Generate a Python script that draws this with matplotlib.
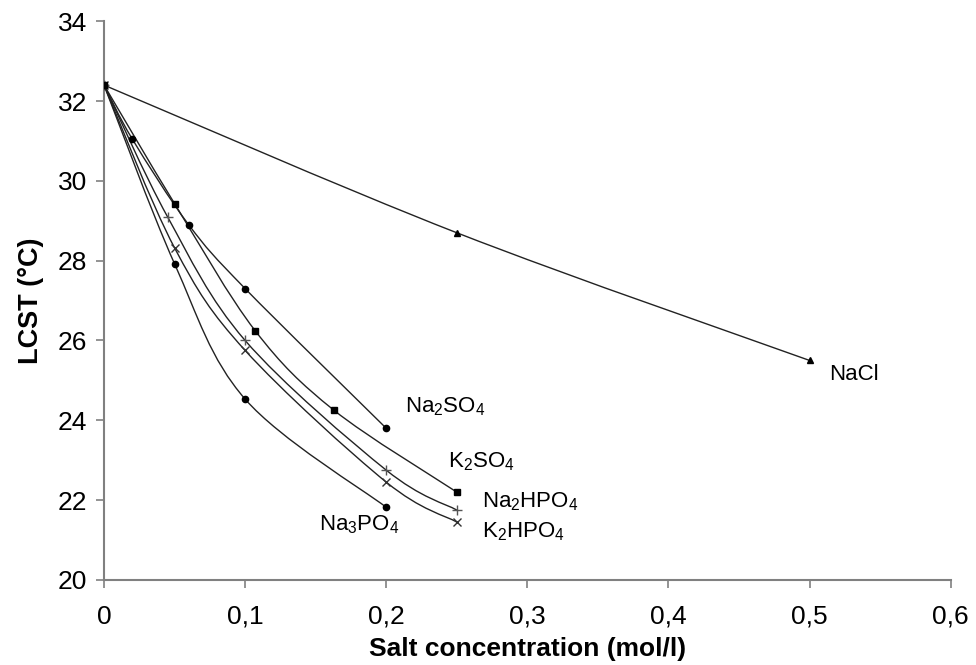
import numpy as np
import matplotlib
matplotlib.use("Agg")
import matplotlib.pyplot as plt
from matplotlib.path import Path
from matplotlib.patches import PathPatch

plt.rcParams['font.family'] = ['Liberation Sans', 'DejaVu Sans']
plt.rcParams['mathtext.fontset'] = 'custom'
plt.rcParams['mathtext.rm'] = 'Liberation Sans'
plt.rcParams['mathtext.it'] = 'Liberation Sans:italic'
plt.rcParams['mathtext.bf'] = 'Liberation Sans:bold'

# data (salt concentration in mol/l, LCST in degC)
na2so4_c = [0, 0.02, 0.06, 0.1, 0.2]
na2so4_t = [32.4, 31.05, 28.9, 27.3, 23.8]

k2so4_c = [0, 0.05, 0.107, 0.163, 0.25]
k2so4_t = [32.4, 29.43, 26.25, 24.25, 22.2]

na2hpo4_c = [0, 0.045, 0.1, 0.2, 0.25]
na2hpo4_t = [32.4, 29.1, 26.0, 22.75, 21.75]

k2hpo4_c = [0, 0.05, 0.1, 0.2, 0.25]
k2hpo4_t = [32.4, 28.32, 25.75, 22.45, 21.45]

na3po4_c = [0, 0.05, 0.1, 0.2]
na3po4_t = [32.4, 27.92, 24.53, 21.82]

nacl_c = [0, 0.25, 0.5]
nacl_t = [32.4, 28.7, 25.5]

xticks = [0, 0.1, 0.2, 0.3, 0.4, 0.5, 0.6]
xtick_labels = ['0', '0,1', '0,2', '0,3', '0,4', '0,5', '0,6']
yticks = [20, 22, 24, 26, 28, 30, 32, 34]


def smooth_path(xs, ys):
    # excel-style smoothed line: bezier segments with catmull-rom control points
    pts = np.column_stack([xs, ys]).astype(float)
    n = len(pts)
    verts = [pts[0]]
    codes = [Path.MOVETO]
    for i in range(n - 1):
        p0 = pts[max(i - 1, 0)]
        p1 = pts[i]
        p2 = pts[i + 1]
        p3 = pts[min(i + 2, n - 1)]
        verts += [p1 + (p2 - p0) / 6, p2 - (p3 - p1) / 6, p2]
        codes += [Path.CURVE4] * 3
    return Path(verts, codes)


fig = plt.figure(figsize=(9.76, 6.65), dpi=100)
ax = fig.add_axes([0.1066, 0.128, 0.8674, 0.840])

series = [
    (na2so4_c, na2so4_t, dict(marker='o', ms=4.5, color='black')),
    (na3po4_c, na3po4_t, dict(marker='o', ms=4.5, color='black')),
    (k2hpo4_c, k2hpo4_t, dict(marker='x', ms=6, mew=1.0, color='#333333')),
    (na2hpo4_c, na2hpo4_t, dict(marker='+', ms=7, mew=1.0, color='#555555')),
    (k2so4_c, k2so4_t, dict(marker='s', ms=5, color='black')),
    (nacl_c, nacl_t, dict(marker='^', ms=5, color='black')),
]

for xs, ys, style in series:
    ax.add_patch(PathPatch(smooth_path(xs, ys), fill=False, lw=1.0, ec='#222222'))
    ax.plot(xs, ys, linestyle='none', zorder=3, **style)

labels = [
    (0.514, 25.15, 'NaCl'),
    (0.213, 24.35, 'Na$_2$SO$_4$'),
    (0.244, 22.95, 'K$_2$SO$_4$'),
    (0.268, 21.97, 'Na$_2$HPO$_4$'),
    (0.268, 21.2, 'K$_2$HPO$_4$'),
    (0.152, 21.39, 'Na$_3$PO$_4$'),
]
for x, y, t in labels:
    ax.text(x, y, t, fontsize=16, ha='left', va='center')

ax.set_xlim(0, 0.6)
ax.set_ylim(20, 34)
ax.set_xticks(xticks)
ax.set_xticklabels(xtick_labels)
ax.set_yticks(yticks)

for s in ['top', 'right']:
    ax.spines[s].set_visible(False)
for s in ['left', 'bottom']:
    ax.spines[s].set_color('#808080')
    ax.spines[s].set_linewidth(1.5)
ax.tick_params(axis='both', direction='out', length=6, width=1.2, color='#808080',
               labelsize=19)
ax.tick_params(axis='y', pad=6)
ax.tick_params(axis='x', pad=12)

ax.set_xlabel('Salt concentration (mol/l)', fontsize=19, fontweight='bold', labelpad=6)
ax.set_ylabel('LCST (°C)', fontsize=19.5, fontweight='bold', labelpad=10)

fig.savefig('out.png', dpi=100)
